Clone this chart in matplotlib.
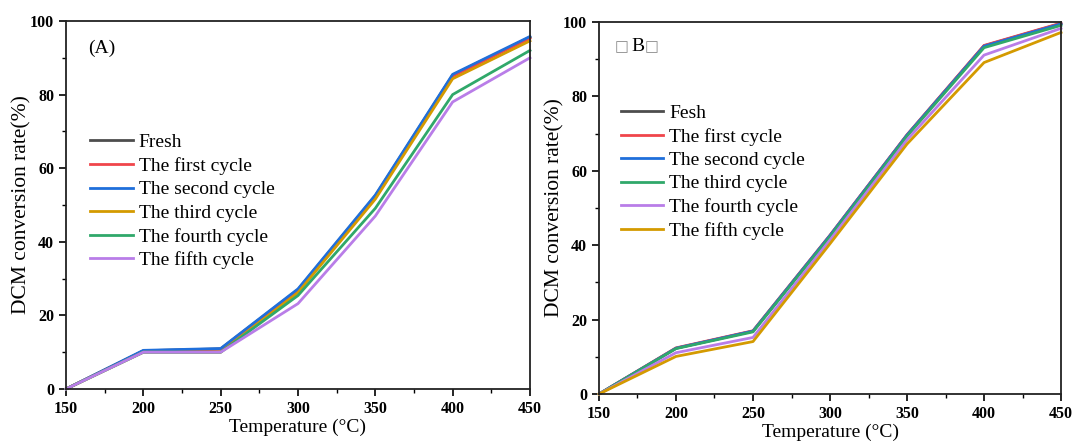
import matplotlib.pyplot as plt
from matplotlib.ticker import MultipleLocator

temps = [150, 200, 250, 300, 350, 400, 450]

# panel A
a_labels = ["Fresh", "The first cycle", "The second cycle", "The third cycle",
            "The fourth cycle", "The fifth cycle"]
a_fresh = [0, 10.4, 10.9, 27.0, 52.5, 85.3, 95.6]
a_first = [0, 10.3, 10.8, 26.8, 52.2, 85.0, 95.3]
a_second = [0, 10.5, 11.0, 27.2, 52.7, 85.5, 95.8]
a_third = [0, 10.0, 10.0, 26.2, 51.6, 84.3, 94.6]
a_fourth = [0, 10.0, 10.0, 25.4, 49.1, 80.0, 92.0]
a_fifth = [0, 10.0, 10.0, 23.2, 47.0, 78.0, 90.0]
a_colors = ["#4d4d4d", "#f0454b", "#1f6fdb", "#d49a00", "#30a86a", "#b97de8"]

# panel B
b_labels = ["Fesh", "The first cycle", "The second cycle", "The third cycle",
            "The fourth cycle", "The fifth cycle"]
b_fresh = [0, 12.3, 16.9, 42.6, 69.6, 93.6, 99.6]
b_first = [0, 12.4, 17.0, 42.7, 69.7, 93.7, 99.7]
b_second = [0, 12.3, 16.9, 42.6, 69.6, 93.5, 99.5]
b_third = [0, 12.2, 16.7, 42.3, 69.3, 93.1, 99.1]
b_fourth = [0, 11.1, 15.2, 41.4, 68.3, 91.1, 98.3]
b_fifth = [0, 10.1, 14.1, 40.4, 67.2, 89.1, 97.2]
b_colors = ["#4d4d4d", "#f0454b", "#1f6fdb", "#30a86a", "#b97de8", "#d49a00"]

plt.rcParams['font.family'] = ['Liberation Serif', 'DejaVu Sans']

fig = plt.figure(figsize=(10.75, 4.43), dpi=100)
ax1 = fig.add_axes([0.0614, 0.1219, 0.4316, 0.8307])
ax2 = fig.add_axes([0.5572, 0.1106, 0.4298, 0.8397])


def style(ax):
    ax.set_xlim(150, 450)
    ax.set_ylim(0, 100)
    ax.xaxis.set_major_locator(MultipleLocator(50))
    ax.xaxis.set_minor_locator(MultipleLocator(25))
    ax.yaxis.set_major_locator(MultipleLocator(20))
    ax.yaxis.set_minor_locator(MultipleLocator(10))
    ax.tick_params(which='major', direction='out', length=5, width=1.2, labelsize=11.5)
    ax.tick_params(which='minor', direction='out', length=3, width=1.0)
    for lab in ax.get_xticklabels() + ax.get_yticklabels():
        lab.set_fontweight('bold')
    for s in ax.spines.values():
        s.set_linewidth(1.3)
        s.set_color('#222222')
    ax.set_xlabel("Temperature (\u00b0C)", fontsize=14, labelpad=1)
    ax.set_ylabel("DCM conversion rate(%)", fontsize=15.5, labelpad=-1)


def add_legend(ax, x, y):
    ax.legend(loc='upper left', bbox_to_anchor=(x, y), frameon=False, fontsize=14,
              handlelength=2.2, handletextpad=0.3, labelspacing=0.3, borderaxespad=0)


a_series = [a_fresh, a_first, a_second, a_third, a_fourth, a_fifth]
for ys, c, lab in zip(a_series, a_colors, a_labels):
    ax1.plot(temps, ys, color=c, lw=2.0, label=lab, clip_on=False)
style(ax1)
add_legend(ax1, 0.035, 0.715)
ax1.text(0.047, 0.925, "(A)", transform=ax1.transAxes, fontsize=14, va='center')

b_series = [b_fresh, b_first, b_second, b_third, b_fourth, b_fifth]
for ys, c, lab in zip(b_series, b_colors, b_labels):
    ax2.plot(temps, ys, color=c, lw=2.0, label=lab, clip_on=False)
style(ax2)
add_legend(ax2, 0.03, 0.80)
ax2.text(0.034, 0.935, "\u25a1", transform=ax2.transAxes, fontsize=10.5, va='center',
         color='#888888', family='DejaVu Sans')
ax2.text(0.071, 0.935, "B", transform=ax2.transAxes, fontsize=14, va='center')
ax2.text(0.099, 0.935, "\u25a1", transform=ax2.transAxes, fontsize=10.5, va='center',
         color='#888888', family='DejaVu Sans')

fig.savefig("out.png", dpi=100)
